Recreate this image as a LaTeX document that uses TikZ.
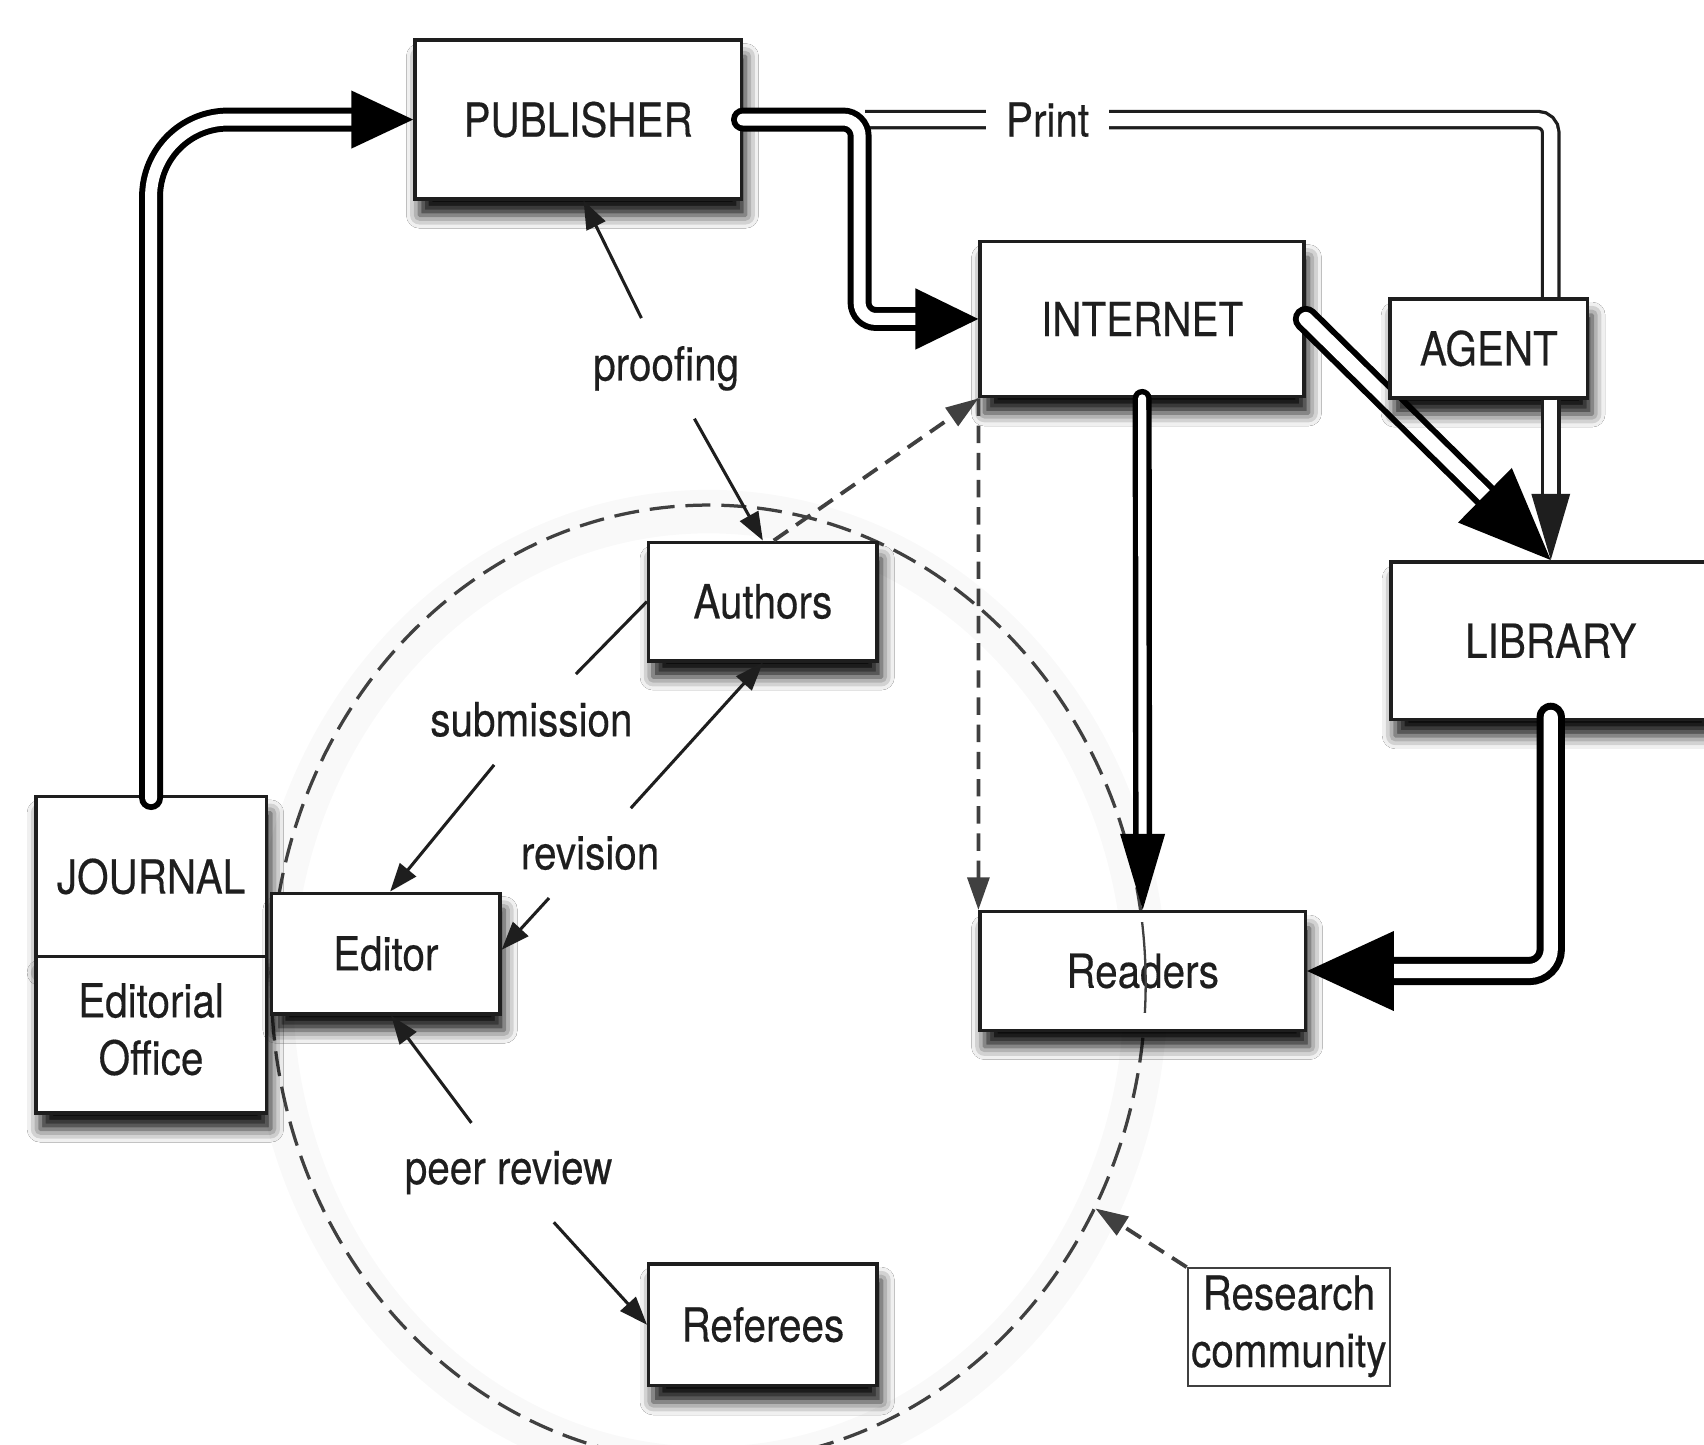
\documentclass[tikz,border=0pt]{standalone}
\usepackage{fontspec}
\setmainfont{TeX Gyre Heros}[FakeBold=0.35]
\usepackage{graphicx}
\usetikzlibrary{arrows.meta,shadows.blur,calc}
\newcommand{\nx}[1]{\scalebox{0.86}[1]{#1}}
\newcommand{\lblfont}{\fontsize{12.3pt}{15pt}\selectfont}
\definecolor{ink}{HTML}{1E1E1E}
\definecolor{dashc}{HTML}{404040}
\begin{document}
\begin{tikzpicture}[x=0.01cm, y=-0.01cm,
  box/.style={draw=ink, line width=0.9pt, fill=white, text=ink, font=\lblfont, inner sep=0pt,
    blur shadow={shadow xshift=0.04cm, shadow yshift=-0.15cm, shadow blur radius=0.12cm, shadow opacity=95}},
  lbl/.style={text=ink, font=\lblfont, inner xsep=0pt, inner ysep=0.25cm},
  pipeA/.style={draw=black, double=white, line cap=round, line width=0.055cm, double distance=0.11cm},
  pipeB/.style={draw=black, double=white, line cap=round, line width=0.05cm, double distance=0.075cm},
  pipeC/.style={draw=black, double=white, line cap=round, line width=0.055cm, double distance=0.13cm},
  pipeD/.style={draw=black, double=white, line cap=round, line width=0.065cm, double distance=0.13cm},
  printline/.style={draw=ink, double=white, line width=0.03cm, double distance=0.12cm},
  thinline/.style={draw=ink, line width=0.8pt},
  thinarr/.style={thinline, -{Triangle[length=0.26cm,width=0.19cm]}},
  dasharr/.style={draw=dashc, line width=1pt, dash pattern=on 0.16cm off 0.09cm, -{Triangle[length=0.3cm,width=0.2cm]}},
  circ/.style={draw=dashc, line width=0.85pt, dash pattern=on 0.23cm off 0.1cm}
]
\useasboundingbox[fill=white] (0,0) rectangle (1568,1329);

% community circle
\begin{scope}[transparency group, opacity=0.025]
  \draw[black, line width=0.4cm, yshift=-0.06cm] (652,905) ellipse [x radius=4.02cm, y radius=4.4cm];
\end{scope}
\draw[circ] (652,905) ellipse [x radius=4.02cm, y radius=4.4cm];
\coordinate (rc) at (1008,1112);

% boxes
\node[box, minimum width=3cm, minimum height=1.46cm] (pub) at (532,110) {\nx{PUBLISHER}};
\node[box, minimum width=2.98cm, minimum height=1.43cm] (inet) at (1051,293.5) {\nx{INTERNET}};
\node[box, minimum width=2.94cm, minimum height=1.45cm] (lib) at (1427,589.5) {\nx{LIBRARY}};
\node[box, minimum width=2.12cm, minimum height=1.47cm] (journal) at (139,806.5) {\nx{JOURNAL}};
\node[box, minimum width=2.12cm, minimum height=1.44cm] (office) at (139,952) {\nx{\begin{tabular}{@{}c@{}}Editorial\\Office\end{tabular}}};
\node[box, minimum width=2.1cm, minimum height=1.11cm] (editor) at (355,877.5) {\nx{Editor}};
\node[box, minimum width=2.1cm, minimum height=1.09cm] (authors) at (702,553.5) {\nx{Authors}};
\node[box, minimum width=2.99cm, minimum height=1.09cm] (readers) at (1051.5,893.5) {\nx{Readers}};
\node[box, minimum width=2.1cm, minimum height=1.12cm] (referees) at (702,1219) {\nx{Referees}};
\node[draw=ink!85, line width=0.55pt, fill=white, text=ink, font=\lblfont, inner sep=0pt,
  minimum width=1.86cm, minimum height=1.08cm] (research) at (1186,1221)
  {\nx{\begin{tabular}{@{}c@{}}Research\\community\end{tabular}}};

% circle showing through the Readers box
\begin{scope}
  \clip (1035,849) rectangle (1070,932);
  \draw[draw=dashc, line width=0.6pt] (652,905) ellipse [x radius=4.02cm, y radius=4.4cm];
\end{scope}

% print line
\coordinate (printstart) at (796,110);
\coordinate (printcorner) at (lib.north |- pub.east);
\draw[printline, rounded corners=0.12cm] (printstart) -- (printcorner) -- (printcorner |- 0,280);
\node[lbl, fill=white, inner xsep=0.18cm, inner ysep=0.05cm] (print) at (964,110) {\nx{Print}};

% pipes
\coordinate (bendA) at (791,200);
\draw[pipeA, -{Triangle[length=0.57cm,width=0.52cm]}, rounded corners=0.71cm]
  ([yshift=-0.03cm]journal.north) |- (pub.west);
\draw[pipeA, -{Triangle[length=0.58cm,width=0.55cm]}, rounded corners=0.15cm]
  (pub.east) -| (bendA) |- (inet.west);
\draw[pipeC, -{Triangle[length=0.85cm,width=0.69cm]}] (inet.east) -- (lib.north);
\node[box, minimum width=1.82cm, minimum height=0.91cm] (agent) at (1370,320.5) {\nx{AGENT}};
\draw[printline, -{Triangle[length=0.61cm,width=0.35cm]}] (agent.south -| lib.north) -- (lib.north);
\draw[pipeB, -{Triangle[length=0.7cm,width=0.4cm]}] (inet.south) -- (readers.north);
\draw[pipeD, -{Triangle[length=0.8cm,width=0.72cm]}, rounded corners=0.2cm]
  ([yshift=0.04cm]lib.south) |- (readers.east);

% dashed arrows
\draw[dasharr] ([xshift=0.1cm]authors.north) -- (inet.south west);
\draw[dasharr] (inet.south west) -- (readers.north west);
\draw[dasharr] (research.north west) -- (rc);

% labelled thin arrows
\node[lbl] (proof) at (613,339) {\nx{proofing}};
\draw[thinarr] (proof) -- ([xshift=0.05cm]pub.south);
\draw[thinarr] (proof) -- (authors.north);
\node[lbl] (subm) at (489,662) {\nx{submission}};
\draw[thinline] (authors.west) -- (subm);
\draw[thinarr] (subm) -- ([xshift=0.04cm]editor.north);
\node[lbl] (rev) at (543,785) {\nx{revision}};
\draw[thinarr] (rev) -- (authors.south);
\draw[thinarr] (rev) -- ([yshift=0.035cm]editor.east);
\node[lbl] (peer) at (468,1079) {\nx{peer review}};
\draw[thinarr] (peer) -- ([xshift=0.05cm]editor.south);
\draw[thinarr] (peer) -- (referees.west);
\end{tikzpicture}
\end{document}
